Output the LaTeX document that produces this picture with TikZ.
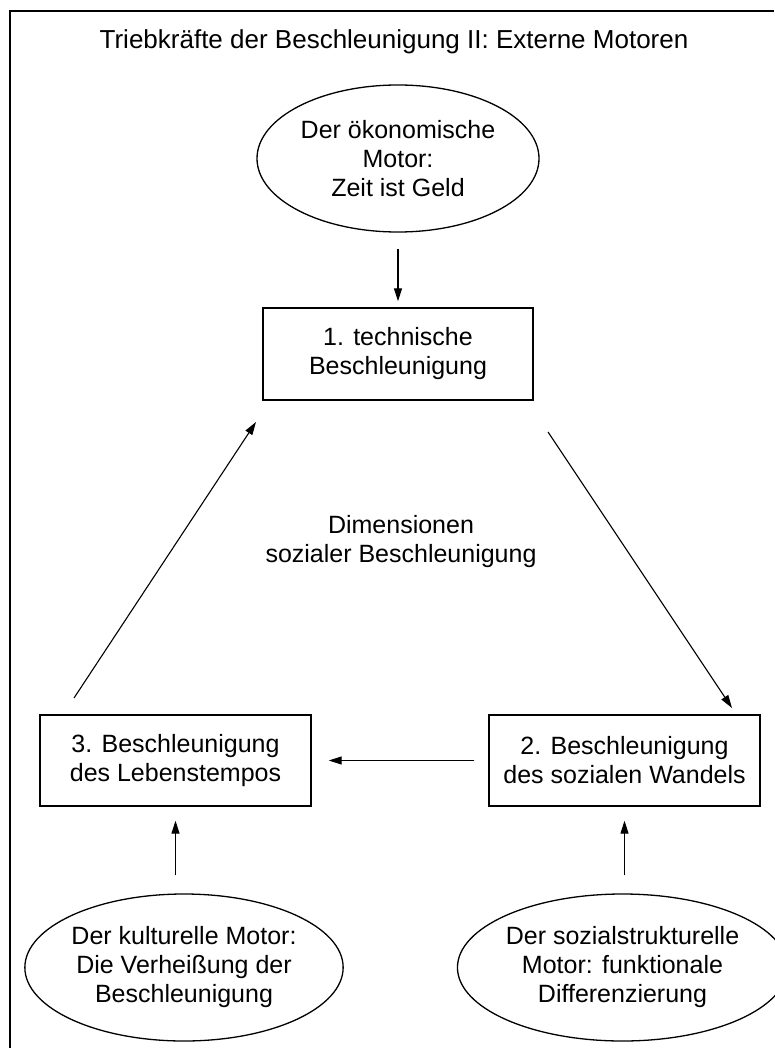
\documentclass[tikz,border=0pt]{standalone}
\usepackage{fontspec}
\setmainfont{Liberation Sans}
\usetikzlibrary{arrows.meta,shapes.geometric}
\begin{document}
\begin{tikzpicture}[x=1pt,y=-1pt,
  txt/.style={font=\fontsize{25}{29}\selectfont, align=center},
  titletxt/.style={font=\fontsize{26}{30}\selectfont},
  boxnode/.style={txt, draw, line width=1.4pt, minimum width=271pt, minimum height=91pt, inner sep=0pt},
  ellnode/.style={txt, ellipse, draw, line width=1.3pt, minimum width=282pt, minimum height=147pt, inner sep=0pt},
  arr/.style={line width=1.1pt, -{Triangle[length=13pt,width=8pt]}}]
\useasboundingbox (0,0) rectangle (774,1048);
\fill[white] (0,0) rectangle (774,1048);
\draw[line width=2pt] (10,1048) -- (10,11) -- (774,11);
\node[titletxt] (title) at (394,42) {Triebkräfte der Beschleunigung II: Externe Motoren};
\node[ellnode] (e1) at (398,158.5) {Der ökonomische\\Motor:\\Zeit ist Geld};
\node[boxnode, minimum width=270pt, minimum height=92pt] (b1) at (398,354) {1. technische\\Beschleunigung};
\node[txt] (dim) at (401,542) {Dimensionen\\sozialer Beschleunigung};
\node[boxnode] (b3) at (175.5,760.5) {3. Beschleunigung\\des Lebenstempos};
\node[boxnode] (b2) at (624.5,760.5) {2. Beschleunigung\\des sozialen Wandels};
\node[ellnode] (e3) at (184,967.5) {Der kulturelle Motor:\\Die Verheißung der\\Beschleunigung};
\node[ellnode] (e2) at (622.5,967.5) {Der sozialstrukturelle\\Motor: funktionale\\Differenzierung};
\coordinate (dl1) at (74,698);
\coordinate (dl2) at (256,422);
\coordinate (dr1) at (548,432);
\coordinate (dr2) at (732,708);
\draw[arr, shorten <=16pt, shorten >=6pt] (e1) -- (b1);
\draw[arr] (dl1) -- (dl2);
\draw[arr] (dr1) -- (dr2);
\draw[arr, shorten <=14pt, shorten >=17pt] (b2.west) -- (b3.east);
\draw[arr, shorten <=18pt, shorten >=14pt] (b3.south |- e3.north) -- (b3.south);
\draw[arr, shorten <=18pt, shorten >=14pt] (b2.south |- e2.north) -- (b2.south);
\end{tikzpicture}
\end{document}
